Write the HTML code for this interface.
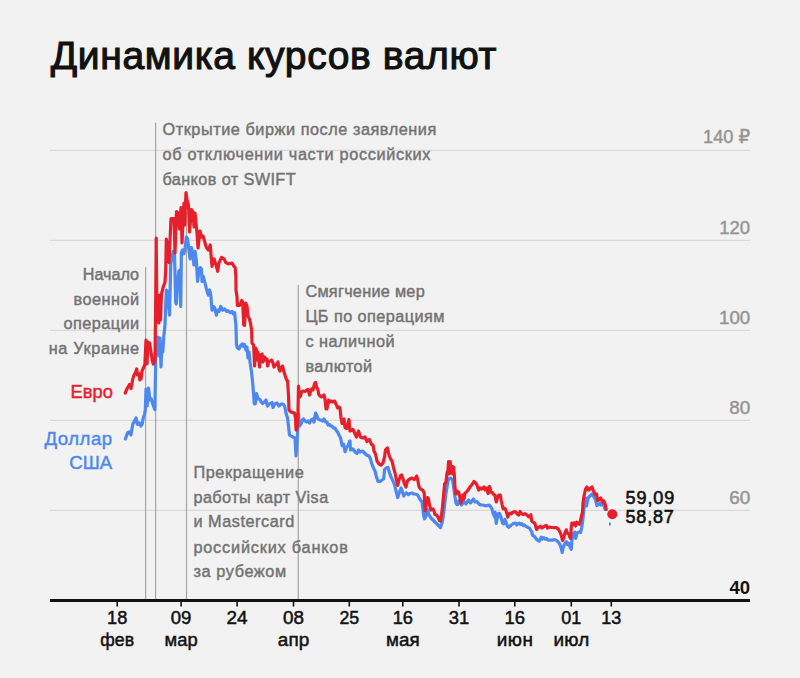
<!DOCTYPE html><html lang="ru"><head><meta charset="utf-8"><title>Динамика курсов валют</title><style>html,body{margin:0;padding:0;background:#f2f2f2;}body{width:800px;height:678px;overflow:hidden;}svg{display:block;}text{font-family:"Liberation Sans", "DejaVu Sans", sans-serif;}</style></head><body>
<svg width="800" height="678" viewBox="0 0 800 678">
<rect width="800" height="678" fill="#f2f2f2"/>
<line x1="50" y1="150.4" x2="750" y2="150.4" stroke="#d9d9d9" stroke-width="1.1"/>
<line x1="50" y1="240.4" x2="750" y2="240.4" stroke="#d9d9d9" stroke-width="1.1"/>
<line x1="50" y1="330.4" x2="750" y2="330.4" stroke="#d9d9d9" stroke-width="1.1"/>
<line x1="50" y1="420.4" x2="750" y2="420.4" stroke="#d9d9d9" stroke-width="1.1"/>
<line x1="50" y1="510.4" x2="750" y2="510.4" stroke="#d9d9d9" stroke-width="1.1"/>
<line x1="145.6" y1="267" x2="145.6" y2="600" stroke="#a6a6a6" stroke-width="1.2"/>
<line x1="155.6" y1="122.5" x2="155.6" y2="600" stroke="#a6a6a6" stroke-width="1.2"/>
<line x1="186.5" y1="212" x2="186.5" y2="600" stroke="#a6a6a6" stroke-width="1.2"/>
<line x1="298.3" y1="285" x2="298.3" y2="600" stroke="#a6a6a6" stroke-width="1.2"/>
<line x1="50" y1="600.5" x2="750" y2="600.5" stroke="#111" stroke-width="3"/>
<line x1="117.2" y1="600" x2="117.2" y2="606.5" stroke="#111" stroke-width="1.6"/>
<line x1="181.1" y1="600" x2="181.1" y2="606.5" stroke="#111" stroke-width="1.6"/>
<line x1="237.1" y1="600" x2="237.1" y2="606.5" stroke="#111" stroke-width="1.6"/>
<line x1="293.5" y1="600" x2="293.5" y2="606.5" stroke="#111" stroke-width="1.6"/>
<line x1="349.3" y1="600" x2="349.3" y2="606.5" stroke="#111" stroke-width="1.6"/>
<line x1="402.8" y1="600" x2="402.8" y2="606.5" stroke="#111" stroke-width="1.6"/>
<line x1="459" y1="600" x2="459" y2="606.5" stroke="#111" stroke-width="1.6"/>
<line x1="514.8" y1="600" x2="514.8" y2="606.5" stroke="#111" stroke-width="1.6"/>
<line x1="571.3" y1="600" x2="571.3" y2="606.5" stroke="#111" stroke-width="1.6"/>
<line x1="611.3" y1="600" x2="611.3" y2="606.5" stroke="#111" stroke-width="1.6"/>
<polyline points="125.4,439 127.6,432.6 129.1,432 130.9,435 132.7,424.5 134.2,421.5 136.1,418 137.5,424.5 139.4,423 140.9,426 142.3,423.8 143.4,417.1 144.5,414.9 145.3,409.7 146,389 147.2,406 148.5,388 150,400 151.2,398.7 153.4,406 154.9,409.7 155.5,372 156,337.5 157,350 158,337 159,356 160,338 161,367 161.9,345.6 162.8,352 163.8,336.3 165,325 166.3,290 167.5,292 169.5,315.2 170.7,265 172,256.3 173.2,251.3 174.5,254 175.7,302.7 176.3,304 177.6,283.9 178.8,271.3 180,270 180.7,306.4 181.4,252.5 182.6,250 183.9,253.8 185.1,247.5 186.4,237 187.6,239 188.9,250 190.1,258.8 191.4,247.5 192.6,252.5 193.9,265 195.1,251.3 196.4,261.3 197.6,281.4 198.9,271.3 200.2,267.6 201.4,268.8 202,281.4 203.3,276.3 205.2,283.9 206.4,288.9 208.3,295.1 209.5,290 210.7,293.9 212,310.2 213.3,306.4 214.6,307.7 216.4,315.2 217.7,310.2 219,311.4 220.8,306.4 222.7,310.2 224.6,308.9 226.5,311.4 228.3,310.8 230.2,312.7 232.1,311.4 233.4,313.9 234.6,312.7 235.9,325 236.5,345 237.5,348 239,349 241,345 242.5,344 243.5,346.5 244.5,344.5 246,350 247,347 248,358 249,352 250,362 251.5,372 252.6,382 253.6,394 254.3,404 255.5,403.5 256.5,393.5 257.5,397 258.5,399 260,399.5 261,401.5 262.5,403.5 264,402.5 266,400 267.5,406 269,404 270.5,403.5 272,402.5 273,407.5 274.6,404 277,403 279,406 281,404 283,404 284.6,406 286,413 287.5,418 288.5,426 289.5,435 291,436 293,437 295,438 296,456 297.2,440 298.5,414 299.5,426 301,424 302.5,420 303.5,419 305,421 306.5,422 308,421 309.5,423 311,420 312.6,419 314,422 315.6,413 317,416 318,419 319.6,420 321,420 322.5,421 324,419 325.6,422 327,422 328,425 329.5,424.5 330.6,426 332,426 333.6,428 335,428 336,430 337.6,432 339,435 340.6,438 342.1,445.7 343.6,444.2 345.1,451.7 346.6,447.2 348.1,445.7 349.6,441.2 350,441 350.5,450 353,449 355,452 357,453.5 358.5,450 360,452 362.5,451 364.5,453 366.5,455 369,456 370.5,459 371.5,463 373,467 375,471 376.5,477 378,481.5 380,481.5 382,480 383.6,479 384.6,469.5 386,468 388,467.5 389.6,473 391,477 393,481 394.6,485 396,491 397.7,497.5 399.5,492 401.2,488 402.5,492 403.8,496 405,494 406.5,492.8 408.3,494.6 410,493.5 411.8,493 413.5,493.8 414.9,494 416.5,494.5 417.6,495 419.8,499 420.5,500 422,502 423.5,514 424.5,519 426,516 427.5,509.5 429,515 431,518 433,520 435,522 437,524 439,526 440.5,527.5 442,523 443,518 444.6,505 446,493 447.2,486 448.2,480 449.3,478.5 450.5,478 451.8,479 452.8,481.5 453.6,487 455,497 456,503 457,504.5 457.5,504.5 459,501 461.5,505 464,501.5 466,504 468.5,500 470.5,503 473.5,499 475,502 477,501.5 479,504 481,505 483,505 485,505.6 487,505.6 489,505 490.6,506.6 492,509 493,513 494.7,517 495,512 496.25,523.5 498.1,513.75 499.4,513.3 501.25,518.1 502.5,523.1 503.75,523.75 505,519.4 506.25,523.1 507.5,526.25 508.75,527.3 510,526.25 511.25,525 513.1,523.75 514.4,523.1 515.6,523.1 516.9,525 518.1,523.75 519.4,523.1 520.6,524.4 521.9,523.75 523.1,525.6 524.4,525 525.6,526.25 526.9,526.9 528.1,527.5 529.4,528.1 530.6,530 531.9,532 532.4,535.2 534.7,536.7 536.9,539.7 539.2,541.2 541.25,537.2 542.5,539 543.75,537.6 545,539 546.25,538.3 548.1,540.1 550,540 552.5,540.1 555,539.5 556.9,540.75 558.75,542.6 560,544.5 561.25,548.25 562.2,552.5 563.4,547 565,543.25 566.25,541.6 567.5,544.5 568.75,543.25 570,547 571.25,549.3 571.9,540.75 573.1,534 575,532.2 575.7,538.5 576.9,533.25 578.75,532 580.6,532.4 581.6,527.6 582.5,522.6 583.3,515 584.5,503 585.6,498 586.6,506 588,498 590,496 592,494 594,497 595.6,500 597,505.5 598.6,504 600,503.5 601,505 602.5,504 604,506 605.2,509.5" fill="none" stroke="#4d88ee" stroke-width="3.2" stroke-linejoin="round" stroke-linecap="round"/>
<polyline points="125.2,393 127.4,388 129.6,384.4 131.1,388.5 132.7,379.4 134,375 135.5,372.5 136.75,369 137.4,375 139,373.75 139.9,380 141.1,378.75 142,371.25 143.6,367.5 144.9,364.4 146,340 147,364 148,342 149.6,343 152.3,360.5 153.3,364 155,360 155.7,300 156.2,238 156.8,300 157.3,322 158,296 158.8,323 159.6,295 160.5,320 161.5,294 163.2,287 165,282 165.7,270 166.3,239 167.5,245 169,262.6 170.5,230 171,218.5 174,218.5 175,253 176.5,211.5 178,213 179.5,229 181,207.5 182,243 184,203 184.8,225 185.4,205 186,192.5 187,200 188.5,205 189.5,232 191.5,209.5 193,212 194,227 195,213 197,233 198,248 200,231 201.5,237 203,236 206.4,247.5 208.3,250 210.2,245 212,266.3 214,258.8 216.4,266.3 217.7,271.3 219,262.6 221.5,257.5 224,258.8 225.8,262.6 228.3,263.8 232,263.2 234,266.3 235.2,267.6 235.9,277.6 236,290 237,297 237.4,305.5 239.7,305.5 241.7,300.5 242.7,302 243.7,325 244.5,325.5 245.7,303 246.9,305.5 248.1,316.5 249.3,318.5 250.5,323 251.6,330 252,343 253.6,345 254.6,366 255.6,348 256.5,350 257,360 258,352 259.6,367 260.6,355 262,354 263,362 264.6,357 266,360 267,359 267.6,366 268.6,362 270,361 271.6,360 273,363 274,367 275.6,365 277,364 278,362 279,369 280,371 281,368 282.6,366 284,372 285.6,377 286.6,380 287.6,381 288.5,395 289,410 291,412 293,412.6 294.5,413 295.5,418 296,430 297,429.5 298,412 298.5,386 299.5,397 300.5,396 301.5,392 303,391 305,391.5 307,390 308,389.5 309.6,395 310.6,391 311.6,389 313,390 314.6,383.5 315.6,382.5 316.6,387 318,390 318.6,394 320,396 321.6,397 323,396 324,395 325,399 326,409 327,409 328.6,400 330,402 331.6,401 333,402 334.6,401 336,404 337.6,408 339,407 340,408 341,418 342,423.5 343,421 344,419 345,427.5 346.7,428.5 348,423 349,419.5 350,431 353,429.5 356.5,437 358.5,431 360.5,437 362.5,438 365,437 367,441.5 369.5,439.5 371.5,444.5 373,445 374,451 375.5,454 377,461 379,464 381,465 383,463 384.5,457 385.5,450 387.5,448 389,455 390.6,459 392,461 393.6,468 395,472.7 396.5,480 397.7,485.5 399,480 400.5,475.5 401.6,475 403,478.8 404.5,484 406,487 407.4,481 409,479.5 411.8,478 414,479.5 415.5,478 416.7,476 418,481 418.9,486.5 420.2,488.6 422.9,490.4 424.2,493 425,511 426.5,502 427.5,497.5 428.5,499 429.5,505 431,510 433,509 434,511 435,514.5 436.5,515 438,517 439.5,520.5 440.5,521 441.5,515 442.5,507 443.6,495 444.6,484 446,482 447,473 448,470 448.6,461.5 449.4,474 450.2,461.5 451,473 451.8,466 452.6,474 453.6,467 454.4,476 455,488 456,494 457,491 458.6,492 459.6,496 461,503 462,499 463,495 464,499 465,493 466.6,492 468,490 470,487 471.6,485 473,483 474,481.5 475.6,483 477,485 478.6,490 480,488 481.7,489 483,488 484,487 485,490 486.7,488 488,493.5 489.7,486.5 491,492 492.7,493 494,495 495,495 496.25,502 497.5,498 498.75,495 500.3,495 501.25,500.6 502.2,505 503.1,508.75 504.4,508.1 505.6,509.4 506.9,513.75 507.8,517 508.75,514.4 510,513.1 511.25,513.75 512.5,512.5 513.75,511.9 515,511.5 516.25,512.5 517.5,514.4 518.75,515 520,511.5 521.25,513.1 522.5,514.4 523.75,514.4 525,513.75 526.25,514.4 527.5,515.6 528.75,516.9 530,516.25 530.9,514.6 531.6,520.6 532.5,521.9 533.75,522.5 535,523.75 535.9,527.5 536.6,529.5 538.1,527.5 539.4,526.9 540.6,526.25 541.9,528 544,526.5 546.25,525.3 547.5,528 549.4,527 551.5,527.5 553.75,527.6 556.25,527.6 558.1,528.9 560,532 561.25,535.1 562.5,540.5 563.75,538.25 565,532.6 566.25,529.8 567.5,533.25 568.75,533.9 569.7,537 570.6,538.5 571.25,527.6 571.9,523 573.1,524.5 574.4,522.8 575.6,526 576.9,522.2 578.1,523.25 579.4,524.3 580.3,521.4 581.25,517 582.5,512 583,503 584,496 585.6,489 587,487 588,489.5 589,490 590.5,488 592,487 593,490 594,492 595,494.5 596.5,494 597.6,500.5 599,500 600.6,498 601.6,500 602.6,502 604,501 605.5,505.5 606.2,509.5" fill="none" stroke="#e6202a" stroke-width="3.2" stroke-linejoin="round" stroke-linecap="round"/>
<line x1="609.9" y1="522.4" x2="609.9" y2="525.6" stroke="#5a6cb0" stroke-width="1.6"/>
<circle cx="612.3" cy="514.2" r="5" fill="#e6202a"/>
<text x="50.8" y="68.5" text-anchor="start" font-size="39" font-weight="400" fill="#111" textLength="445.6" lengthAdjust="spacing" stroke="#111" stroke-width="1.1">Динамика курсов валют</text>
<text x="162.5" y="134.9" text-anchor="start" font-size="16.3" font-weight="400" fill="#737373" textLength="273.8" lengthAdjust="spacing" stroke="#737373" stroke-width="0.45">Открытие биржи после заявления</text>
<text x="162.5" y="159.7" text-anchor="start" font-size="16.3" font-weight="400" fill="#737373" textLength="268" lengthAdjust="spacing" stroke="#737373" stroke-width="0.45">об отключении части российских</text>
<text x="162.5" y="184.5" text-anchor="start" font-size="16.3" font-weight="400" fill="#737373" textLength="133.1" lengthAdjust="spacing" stroke="#737373" stroke-width="0.45">банков от SWIFT</text>
<text x="139.1" y="279.5" text-anchor="end" font-size="16.3" font-weight="400" fill="#737373" textLength="56.3" lengthAdjust="spacingAndGlyphs" stroke="#737373" stroke-width="0.45">Начало</text>
<text x="139.1" y="304.5" text-anchor="end" font-size="16.3" font-weight="400" fill="#737373" textLength="65.6" lengthAdjust="spacing" stroke="#737373" stroke-width="0.45">военной</text>
<text x="139.1" y="329.1" text-anchor="end" font-size="16.3" font-weight="400" fill="#737373" textLength="75.5" lengthAdjust="spacing" stroke="#737373" stroke-width="0.45">операции</text>
<text x="139.1" y="353.9" text-anchor="end" font-size="16.3" font-weight="400" fill="#737373" textLength="90.4" lengthAdjust="spacing" stroke="#737373" stroke-width="0.45">на Украине</text>
<text x="305.4" y="297.4" text-anchor="start" font-size="16.3" font-weight="400" fill="#737373" textLength="119.3" lengthAdjust="spacing" stroke="#737373" stroke-width="0.45">Смягчение мер</text>
<text x="305.4" y="321.9" text-anchor="start" font-size="16.3" font-weight="400" fill="#737373" textLength="139" lengthAdjust="spacing" stroke="#737373" stroke-width="0.45">ЦБ по операциям</text>
<text x="305.4" y="347.1" text-anchor="start" font-size="16.3" font-weight="400" fill="#737373" textLength="89.3" lengthAdjust="spacing" stroke="#737373" stroke-width="0.45">с наличной</text>
<text x="305.4" y="372.2" text-anchor="start" font-size="16.3" font-weight="400" fill="#737373" textLength="66.8" lengthAdjust="spacing" stroke="#737373" stroke-width="0.45">валютой</text>
<text x="193.4" y="478.1" text-anchor="start" font-size="16.3" font-weight="400" fill="#737373" textLength="110.4" lengthAdjust="spacing" stroke="#737373" stroke-width="0.45">Прекращение</text>
<text x="193.4" y="502.6" text-anchor="start" font-size="16.3" font-weight="400" fill="#737373" textLength="134.8" lengthAdjust="spacing" stroke="#737373" stroke-width="0.45">работы карт Visa</text>
<text x="193.4" y="527.2" text-anchor="start" font-size="16.3" font-weight="400" fill="#737373" textLength="100.9" lengthAdjust="spacing" stroke="#737373" stroke-width="0.45">и Mastercard</text>
<text x="193.4" y="552.9" text-anchor="start" font-size="16.3" font-weight="400" fill="#737373" textLength="154.4" lengthAdjust="spacing" stroke="#737373" stroke-width="0.45">российских банков</text>
<text x="193.4" y="577.4" text-anchor="start" font-size="16.3" font-weight="400" fill="#737373" textLength="92.8" lengthAdjust="spacing" stroke="#737373" stroke-width="0.45">за рубежом</text>
<text x="112.8" y="397.9" text-anchor="end" font-size="18.6" font-weight="400" fill="#e6202a" textLength="42.2" lengthAdjust="spacingAndGlyphs" stroke="#e6202a" stroke-width="0.45">Евро</text>
<text x="112.2" y="445" text-anchor="end" font-size="18.6" font-weight="400" fill="#4d88ee" textLength="67.8" lengthAdjust="spacing" stroke="#4d88ee" stroke-width="0.45">Доллар</text>
<text x="112.2" y="469.4" text-anchor="end" font-size="18.6" font-weight="400" fill="#4d88ee" textLength="43" lengthAdjust="spacing" stroke="#4d88ee" stroke-width="0.45">США</text>
<text x="750" y="143.3" text-anchor="end" font-size="19" font-weight="400" fill="#949494" textLength="46.9" lengthAdjust="spacingAndGlyphs" stroke="#949494" stroke-width="0.45">140 ₽</text>
<text x="750.1" y="233.5" text-anchor="end" font-size="19" font-weight="400" fill="#949494" textLength="30.8" lengthAdjust="spacingAndGlyphs" stroke="#949494" stroke-width="0.45">120</text>
<text x="750.2" y="324" text-anchor="end" font-size="19" font-weight="400" fill="#949494" textLength="31.2" lengthAdjust="spacingAndGlyphs" stroke="#949494" stroke-width="0.45">100</text>
<text x="750.3" y="414.1" text-anchor="end" font-size="19" font-weight="400" fill="#949494" textLength="21" lengthAdjust="spacingAndGlyphs" stroke="#949494" stroke-width="0.45">80</text>
<text x="750.3" y="504.2" text-anchor="end" font-size="19" font-weight="400" fill="#949494" textLength="21" lengthAdjust="spacingAndGlyphs" stroke="#949494" stroke-width="0.45">60</text>
<text x="750" y="593.8" text-anchor="end" font-size="18.6" font-weight="700" fill="#111" textLength="20.6" lengthAdjust="spacingAndGlyphs">40</text>
<text x="117.2" y="624.3" text-anchor="middle" font-size="18.9" font-weight="400" fill="#111" textLength="20.2" lengthAdjust="spacingAndGlyphs" stroke="#111" stroke-width="0.5">18</text>
<text x="117.2" y="646" text-anchor="middle" font-size="18.9" font-weight="400" fill="#111" textLength="33.7" lengthAdjust="spacingAndGlyphs" stroke="#111" stroke-width="0.5">фев</text>
<text x="181.1" y="624.3" text-anchor="middle" font-size="18.9" font-weight="400" fill="#111" textLength="20.6" lengthAdjust="spacingAndGlyphs" stroke="#111" stroke-width="0.5">09</text>
<text x="181.1" y="646" text-anchor="middle" font-size="18.9" font-weight="400" fill="#111" textLength="33" lengthAdjust="spacingAndGlyphs" stroke="#111" stroke-width="0.5">мар</text>
<text x="237.1" y="624.3" text-anchor="middle" font-size="18.9" font-weight="400" fill="#111" textLength="21" lengthAdjust="spacingAndGlyphs" stroke="#111" stroke-width="0.5">24</text>
<text x="293.5" y="624.3" text-anchor="middle" font-size="18.9" font-weight="400" fill="#111" textLength="21" lengthAdjust="spacingAndGlyphs" stroke="#111" stroke-width="0.5">08</text>
<text x="293.5" y="646" text-anchor="middle" font-size="18.9" font-weight="400" fill="#111" textLength="31.5" lengthAdjust="spacing" stroke="#111" stroke-width="0.5">апр</text>
<text x="349.3" y="624.3" text-anchor="middle" font-size="18.9" font-weight="400" fill="#111" textLength="19.7" lengthAdjust="spacingAndGlyphs" stroke="#111" stroke-width="0.5">25</text>
<text x="402.8" y="624.3" text-anchor="middle" font-size="18.9" font-weight="400" fill="#111" textLength="20.2" lengthAdjust="spacingAndGlyphs" stroke="#111" stroke-width="0.5">16</text>
<text x="402.8" y="646" text-anchor="middle" font-size="18.9" font-weight="400" fill="#111" textLength="33.6" lengthAdjust="spacingAndGlyphs" stroke="#111" stroke-width="0.5">мая</text>
<text x="459" y="624.3" text-anchor="middle" font-size="18.9" font-weight="400" fill="#111" textLength="20.5" lengthAdjust="spacingAndGlyphs" stroke="#111" stroke-width="0.5">31</text>
<text x="514.8" y="624.3" text-anchor="middle" font-size="18.9" font-weight="400" fill="#111" textLength="20.5" lengthAdjust="spacingAndGlyphs" stroke="#111" stroke-width="0.5">16</text>
<text x="514.8" y="646" text-anchor="middle" font-size="18.9" font-weight="400" fill="#111" textLength="36.2" lengthAdjust="spacing" stroke="#111" stroke-width="0.5">июн</text>
<text x="571.3" y="624.3" text-anchor="middle" font-size="18.9" font-weight="400" fill="#111" textLength="20" lengthAdjust="spacingAndGlyphs" stroke="#111" stroke-width="0.5">01</text>
<text x="571.3" y="646" text-anchor="middle" font-size="18.9" font-weight="400" fill="#111" textLength="35.8" lengthAdjust="spacing" stroke="#111" stroke-width="0.5">июл</text>
<text x="611.3" y="624.3" text-anchor="middle" font-size="18.9" font-weight="400" fill="#111" textLength="20" lengthAdjust="spacingAndGlyphs" stroke="#111" stroke-width="0.5">13</text>
<text x="625.6" y="503.6" text-anchor="start" font-size="18" font-weight="400" fill="#111" textLength="48.6" lengthAdjust="spacing" stroke="#111" stroke-width="0.6">59,09</text>
<text x="625.6" y="522.5" text-anchor="start" font-size="18" font-weight="400" fill="#111" textLength="48.1" lengthAdjust="spacing" stroke="#111" stroke-width="0.6">58,87</text>
</svg></body></html>
